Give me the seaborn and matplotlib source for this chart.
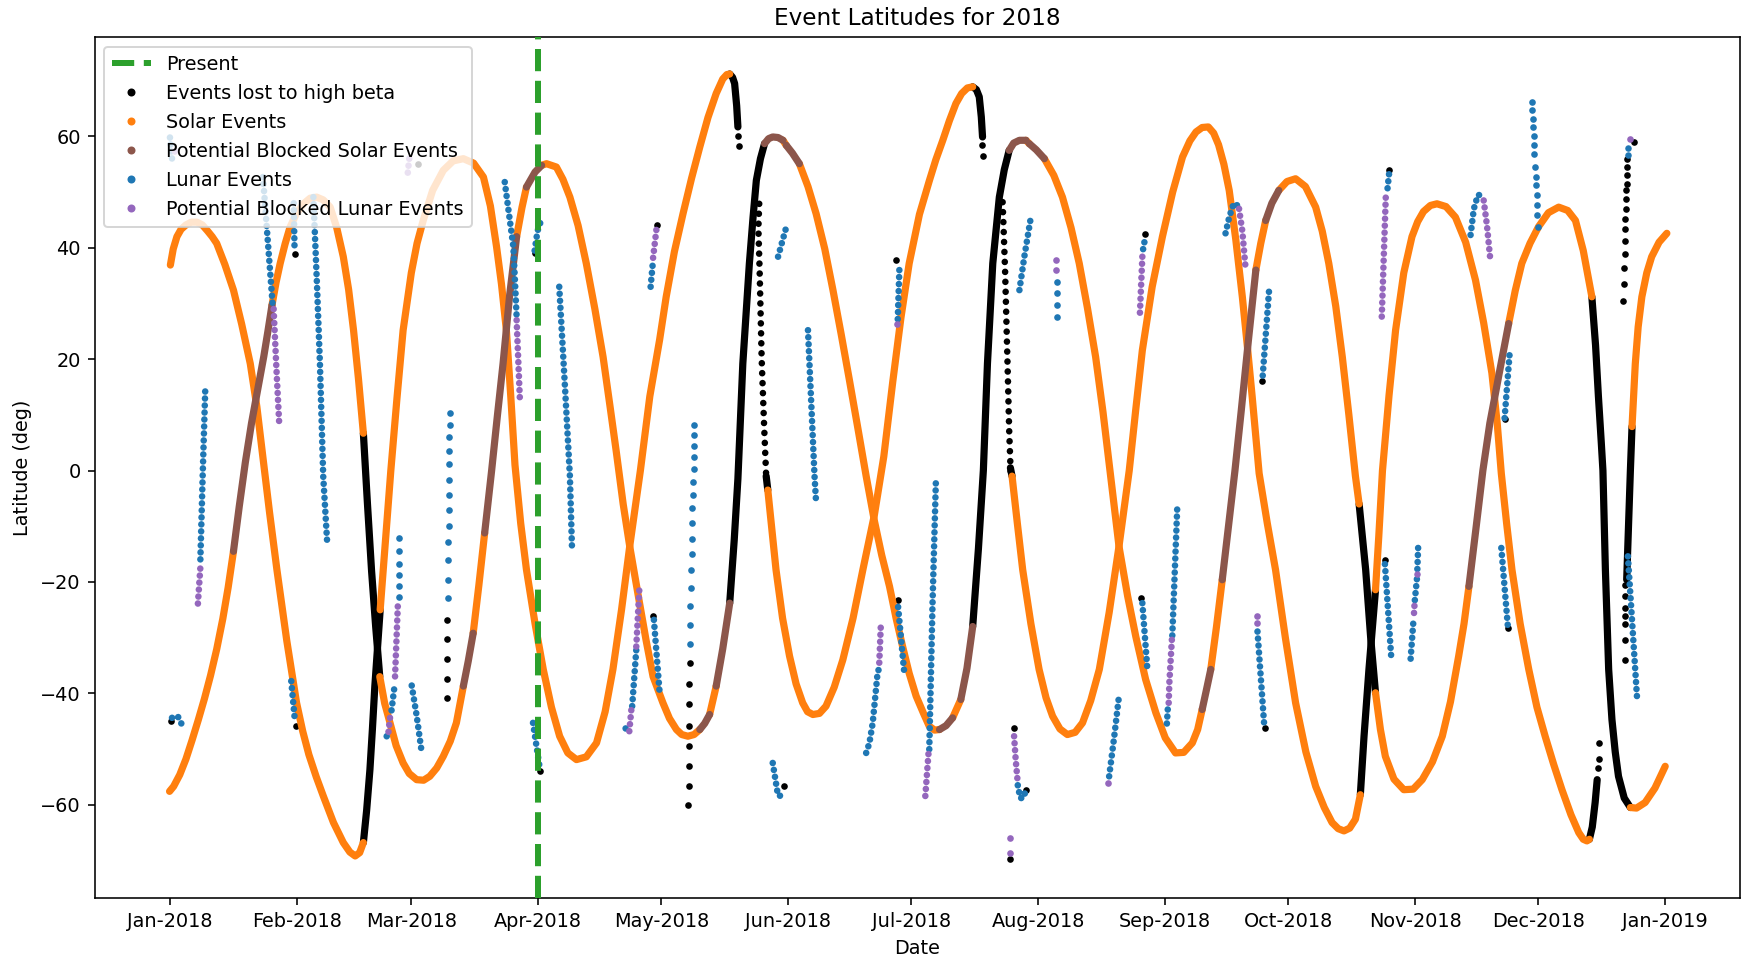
import matplotlib
matplotlib.use("Agg")
import matplotlib.pyplot as plt
import matplotlib.dates as mdates
from matplotlib.lines import Line2D
from datetime import datetime
import numpy as np
import pandas as pd
import seaborn as sns

# ---------------------------------------------------------------------------
# Data: day offsets counted from 2018-01-01, latitudes in degrees
# ---------------------------------------------------------------------------
PRESENT_DAY = 90.0

# Solar event tracks: (day, latitude, state of the stretch starting here)
# o = solar event, b = potentially blocked, k = lost to high beta, - = none
solar_track_1 = [
    (0.0, -57.6, 'o'), (1.0, -56.7, 'o'), (2.5, -54.6, 'o'), (4.0, -51.8, 'o'),
    (5.5, -48.4, 'o'), (7.0, -44.8, 'o'), (8.5, -41.0, 'o'), (10.0, -36.8, 'o'),
    (11.5, -32.1, 'o'), (13.0, -26.6, 'o'), (14.3, -21.0, 'o'), (15.6, -14.5, 'b'),
    (17.0, -6.5, 'b'), (18.5, 1.5, 'b'), (20.0, 8.5, 'b'), (21.5, 14.5, 'b'),
    (23.0, 20.5, 'b'), (24.0, 25.0, 'b'), (25.0, 29.7, 'o'), (26.0, 33.8, 'o'),
    (27.0, 37.2, 'o'), (28.2, 40.7, 'o'), (29.4, 43.7, 'o'), (31.0, 46.2, 'o'),
    (32.7, 47.9, 'o'), (34.3, 48.9, 'o'), (35.9, 49.1, 'o'), (37.5, 48.6, 'o'),
    (39.2, 47.3, 'o'), (40.8, 43.6, 'o'), (42.4, 38.4, 'o'), (43.7, 32.5, 'o'),
    (44.9, 25.2, 'o'), (46.1, 16.5, 'o'), (47.3, 6.7, 'k'), (48.3, -6.0, 'k'),
    (49.3, -18.0, 'k'), (50.3, -28.0, 'k'), (51.3, -37.0, 'o'), (52.5, -41.8, 'o'),
    (53.8, -45.3, 'o'), (55.3, -49.4, 'o'), (57.0, -52.5, 'o'), (58.5, -54.4, 'o'),
    (60.3, -55.5, 'o'), (62.0, -55.6, 'o'), (63.5, -54.9, 'o'), (65.2, -53.4, 'o'),
    (66.8, -51.3, 'o'), (68.5, -48.6, 'o'), (70.0, -45.3, 'o'), (71.7, -38.7, 'b'),
    (72.9, -34.2, 'b'), (74.1, -29.2, 'o'), (75.5, -20.5, 'o'), (76.9, -11.2, 'b'),
    (78.6, 0.0, 'b'), (80.0, 9.8, 'b'), (81.4, 19.3, 'b'), (83.0, 31.5, 'b'),
    (84.7, 42.0, 'o'), (86.0, 47.2, 'o'), (87.1, 50.9, 'b'), (89.2, 53.6, 'b'),
    (90.8, 54.8, 'o'), (92.0, 55.1, 'o'), (94.4, 54.5, 'o'), (96.0, 52.3, 'o'),
    (97.7, 49.1, 'o'), (99.7, 44.0, 'o'), (101.7, 37.2, 'o'), (103.8, 29.0, 'o'),
    (105.8, 20.4, 'o'), (107.5, 11.5, 'o'), (109.0, 3.5, 'o'), (110.7, -6.0, 'o'),
    (112.3, -13.6, 'o'), (114.7, -23.8, 'o'), (116.3, -30.5, 'o'), (118.0, -37.0, 'o'),
    (120.4, -41.7, 'o'), (122.0, -44.5, 'o'), (123.7, -46.5, 'o'), (125.0, -47.4, 'o'),
    (126.5, -47.7, 'o'), (128.0, -47.4, 'o'), (129.4, -46.5, 'b'), (130.6, -45.4, 'b'),
    (131.8, -43.8, 'o'), (133.4, -38.7, 'b'), (135.0, -32.0, 'b'), (136.7, -23.8, 'k'),
    (137.8, -12.5, 'k'), (138.7, -1.5, 'k'), (139.9, 19.2, 'k'), (141.5, 37.2, 'k'),
    (142.4, 45.5, 'k'), (143.2, 52.1, 'k'), (144.2, 56.0, 'k'), (145.2, 58.7, 'b'),
    (146.2, 59.6, 'b'), (147.2, 59.9, 'b'), (148.5, 59.8, 'b'), (149.7, 59.3, 'o'),
    (150.5, 58.4, 'b'), (152.0, 57.0, 'b'), (153.7, 55.1, 'o'), (155.8, 51.0, 'o'),
    (157.8, 46.1, 'o'), (159.9, 39.8, 'o'), (161.9, 32.4, 'o'), (163.9, 24.5, 'o'),
    (165.9, 16.3, 'o'), (168.0, 7.5, 'o'), (170.0, -1.0, 'o'), (172.0, -9.0, 'o'),
    (173.8, -15.2, 'o'), (175.7, -20.8, 'o'), (177.3, -26.5, 'o'), (178.9, -31.6, 'o'),
    (180.5, -36.4, 'o'), (182.2, -40.5, 'o'), (184.0, -43.6, 'o'), (185.4, -45.9, 'o'),
    (186.7, -46.6, 'o'), (187.9, -46.5, 'b'), (189.5, -45.8, 'b'), (191.1, -44.4, 'o'),
    (193.1, -41.1, 'b'), (194.6, -35.5, 'b'), (196.0, -28.0, 'k'), (197.4, -14.0, 'k'),
    (198.6, 0.0, 'k'), (199.6, 19.2, 'k'), (200.9, 37.2, 'k'), (202.5, 49.1, 'k'),
    (203.7, 54.0, 'k'), (204.9, 57.5, 'b'), (206.0, 58.8, 'b'), (207.4, 59.3, 'b'),
    (209.0, 59.3, 'o'), (209.8, 58.7, 'b'), (211.5, 57.6, 'b'), (213.5, 56.0, 'o'),
    (215.8, 53.0, 'o'), (217.9, 49.1, 'o'), (220.0, 43.6, 'o'), (222.0, 37.2, 'o'),
    (224.0, 29.2, 'o'), (226.0, 20.4, 'o'), (227.8, 10.5, 'o'), (229.5, 0.0, 'o'),
    (231.7, -13.6, 'o'), (233.8, -22.5, 'o'), (235.8, -29.8, 'o'), (238.2, -37.5, 'o'),
    (240.7, -43.5, 'o'), (243.0, -48.0, 'o'), (245.5, -50.7, 'o'), (247.5, -50.6, 'o'),
    (249.6, -48.9, 'o'), (250.9, -46.5, 'o'), (252.0, -42.9, 'b'), (253.0, -39.5, 'b'),
    (254.1, -35.7, 'o'), (255.5, -28.0, 'o'), (256.9, -19.6, 'b'), (258.5, -9.5, 'b'),
    (260.0, 0.0, 'b'), (261.5, 10.5, 'b'), (263.3, 23.5, 'b'), (265.1, 36.0, 'o'),
    (266.3, 40.8, 'o'), (267.5, 44.9, 'b'), (269.0, 48.0, 'b'), (270.7, 50.3, 'o'),
    (272.7, 51.9, 'o'), (274.8, 52.4, 'o'), (277.2, 51.0, 'o'), (279.7, 47.3, 'o'),
    (281.3, 43.0, 'o'), (282.9, 37.2, 'o'), (284.6, 29.5, 'o'), (286.2, 20.4, 'o'),
    (287.8, 10.0, 'o'), (289.4, -1.0, 'o'), (290.3, -6.0, 'k'), (291.9, -17.8, 'k'),
    (293.1, -29.8, 'k'), (294.3, -39.9, 'o'), (295.5, -46.5, 'o'), (296.7, -51.3, 'o'),
    (298.8, -55.4, 'o'), (301.2, -57.3, 'o'), (303.5, -57.2, 'o'), (305.7, -55.5, 'o'),
    (308.2, -52.3, 'o'), (310.6, -47.7, 'o'), (312.6, -41.5, 'o'), (314.6, -33.3, 'o'),
    (315.9, -27.5, 'o'), (317.1, -20.8, 'b'), (318.8, -10.5, 'b'), (320.5, 0.0, 'b'),
    (322.2, 8.5, 'b'), (324.5, 17.5, 'b'), (326.8, 26.4, 'o'), (328.4, 32.3, 'o'),
    (330.0, 37.2, 'o'), (332.0, 40.8, 'o'), (334.1, 43.8, 'o'), (336.5, 46.3, 'o'),
    (339.0, 47.3, 'o'), (341.2, 46.7, 'o'), (343.1, 44.9, 'o'), (345.0, 39.5, 'o'),
    (347.1, 31.2, 'k'), (348.0, 22.5, 'k'), (348.7, 13.3, 'k'), (349.4, 5.0, 'k'),
    (349.8, 0.0, 'k'), (350.4, -17.8, 'k'), (351.2, -35.7, 'k'), (352.0, -44.7, 'k'),
    (352.8, -50.5, 'k'), (353.6, -54.9, 'k'), (355.0, -58.8, 'k'), (356.5, -60.5, 'o'),
    (358.0, -60.6, 'o'), (360.1, -59.6, 'o'), (362.5, -57.0, 'o'), (365.0, -53.1, 'o'),
]

solar_track_2 = [
    (0.2, 36.9, 'o'), (0.9, 39.8, 'o'), (1.8, 42.0, 'o'), (2.8, 43.3, 'o'),
    (4.0, 44.1, 'o'), (5.3, 44.6, 'o'), (6.7, 44.6, 'o'), (8.0, 44.1, 'o'),
    (9.3, 43.0, 'o'), (10.4, 42.0, 'o'), (11.5, 40.8, 'o'), (13.5, 37.0, 'o'),
    (15.6, 32.4, 'o'), (17.6, 26.3, 'o'), (19.7, 19.2, 'o'), (21.3, 11.5, 'o'),
    (22.6, 3.5, 'o'), (24.4, -7.5, 'o'), (26.2, -17.8, 'o'), (28.6, -30.5, 'o'),
    (31.0, -41.7, 'o'), (32.5, -46.8, 'o'), (34.0, -51.0, 'o'), (35.8, -55.0, 'o'),
    (37.5, -58.4, 'o'), (40.0, -63.2, 'o'), (42.4, -66.8, 'o'), (44.0, -68.5, 'o'),
    (45.3, -69.2, 'o'), (46.4, -68.6, 'o'), (47.3, -66.8, 'k'), (48.1, -61.0, 'k'),
    (48.9, -53.7, 'k'), (49.5, -46.5, 'k'), (50.1, -38.7, 'k'), (51.4, -25.0, 'o'),
    (52.7, -12.5, 'o'), (54.0, 0.0, 'o'), (55.5, 13.0, 'o'), (57.0, 25.2, 'o'),
    (59.0, 35.5, 'o'), (60.4, 40.8, 'o'), (61.9, 44.9, 'o'), (64.2, 50.3, 'o'),
    (66.8, 53.9, 'o'), (69.2, 55.6, 'o'), (71.7, 56.0, 'o'), (74.2, 55.2, 'o'),
    (76.6, 52.7, 'o'), (78.3, 47.5, 'o'), (79.8, 40.2, 'o'), (81.0, 33.5, 'o'),
    (82.2, 25.2, 'o'), (83.3, 13.0, 'o'), (84.3, 1.0, 'o'), (85.7, -9.5, 'o'),
    (87.1, -17.8, 'o'), (89.2, -27.5, 'o'), (91.2, -35.7, 'o'), (93.2, -42.5, 'o'),
    (95.2, -47.7, 'o'), (97.2, -50.7, 'o'), (99.3, -51.9, 'o'), (101.7, -51.4, 'o'),
    (104.2, -48.9, 'o'), (106.3, -43.3, 'o'), (108.2, -35.7, 'o'), (110.3, -25.0, 'o'),
    (112.3, -13.6, 'o'), (114.9, 0.0, 'o'), (117.2, 13.3, 'o'), (119.6, 23.5, 'o'),
    (121.2, 31.2, 'o'), (123.2, 39.3, 'o'), (125.3, 46.1, 'o'), (127.4, 52.5, 'o'),
    (129.4, 58.1, 'o'), (131.4, 63.4, 'o'), (133.4, 67.7, 'o'), (135.0, 70.3, 'o'),
    (136.0, 71.1, 'o'), (136.7, 71.2, 'k'), (137.4, 70.6, 'k'), (137.9, 69.5, 'k'),
    (138.4, 65.5, 'k'), (138.7, 61.7, '-'), (145.6, -1.0, 'k'), (146.0, -3.5, 'o'),
    (148.0, -17.8, 'o'), (149.6, -26.5, 'o'), (151.3, -33.3, 'o'), (152.9, -38.3, 'o'),
    (154.5, -41.7, 'o'), (155.7, -43.3, 'o'), (157.0, -43.8, 'o'), (158.6, -43.6, 'o'),
    (160.2, -42.3, 'o'), (162.2, -38.9, 'o'), (164.3, -34.0, 'o'), (166.8, -26.5, 'o'),
    (169.2, -17.8, 'o'), (172.0, -8.0, 'o'), (174.3, 2.5, 'o'), (176.5, 16.0, 'o'),
    (178.5, 27.5, 'o'), (180.5, 37.2, 'o'), (183.0, 46.0, 'o'), (185.4, 52.0, 'o'),
    (187.0, 55.8, 'o'), (188.7, 59.3, 'o'), (190.3, 62.8, 'o'), (191.9, 65.9, 'o'),
    (193.3, 67.7, 'o'), (194.7, 68.7, 'o'), (196.0, 68.9, 'k'), (196.9, 68.4, 'k'),
    (197.6, 67.1, 'k'), (198.1, 63.5, 'k'), (198.4, 59.9, '-'), (205.2, 0.5, 'k'),
    (205.6, -1.0, 'o'), (206.9, -9.5, 'o'), (208.2, -17.8, 'o'), (210.2, -27.5, 'o'),
    (212.2, -35.7, 'o'), (213.9, -40.8, 'o'), (215.5, -44.1, 'o'), (217.3, -46.4, 'o'),
    (219.1, -47.4, 'o'), (221.0, -47.0, 'o'), (222.8, -45.3, 'o'), (224.8, -41.3, 'o'),
    (226.9, -35.7, 'o'), (229.3, -25.5, 'o'), (231.7, -13.6, 'o'), (234.2, 0.0, 'o'),
    (235.8, 11.0, 'o'), (237.4, 21.6, 'o'), (239.8, 33.0, 'o'), (242.3, 42.0, 'o'),
    (244.8, 50.0, 'o'), (247.2, 56.3, 'o'), (249.0, 59.2, 'o'), (250.5, 60.8, 'o'),
    (252.0, 61.6, 'o'), (253.5, 61.7, 'o'), (254.8, 60.6, 'o'), (256.0, 58.5, 'o'),
    (257.3, 55.0, 'o'), (258.6, 50.3, 'o'), (260.2, 41.5, 'o'), (261.8, 31.2, 'o'),
    (263.0, 22.5, 'o'), (264.2, 13.3, 'o'), (265.9, -0.5, 'o'), (267.9, -9.5, 'o'),
    (269.9, -17.8, 'o'), (272.3, -30.0, 'o'), (274.8, -41.7, 'o'), (277.3, -50.5, 'o'),
    (279.7, -56.7, 'o'), (281.8, -60.5, 'o'), (283.7, -63.2, 'o'), (285.2, -64.3, 'o'),
    (286.6, -64.7, 'o'), (288.0, -64.2, 'o'), (289.4, -62.6, 'o'), (290.6, -58.2, 'k'),
    (291.5, -47.7, 'k'), (292.7, -35.7, 'k'), (294.3, -21.4, 'o'), (295.1, -11.8, 'o'),
    (296.0, 0.0, 'o'), (297.6, 13.5, 'o'), (299.2, 25.2, 'o'), (301.2, 35.5, 'o'),
    (303.2, 42.0, 'o'), (304.6, 44.7, 'o'), (306.0, 46.5, 'o'), (307.7, 47.6, 'o'),
    (309.3, 47.9, 'o'), (311.5, 47.4, 'o'), (313.8, 45.5, 'o'), (316.3, 41.0, 'o'),
    (318.7, 34.2, 'o'), (320.7, 26.5, 'o'), (322.7, 17.5, 'o'), (324.0, 8.5, 'o'),
    (325.0, -0.5, 'o'), (326.3, -9.5, 'o'), (327.6, -17.8, 'o'), (329.6, -27.5, 'o'),
    (331.7, -35.7, 'o'), (333.7, -42.5, 'o'), (335.7, -47.7, 'o'), (337.8, -52.8, 'o'),
    (339.8, -57.3, 'o'), (342.0, -61.8, 'o'), (343.9, -65.0, 'o'), (345.0, -66.2, 'o'),
    (345.9, -66.5, 'o'), (346.5, -66.2, 'k'), (347.2, -64.0, 'k'), (347.9, -59.6, 'k'),
    (348.4, -55.5, '-'), (355.6, -19.6, 'k'), (356.5, 0.0, 'k'), (356.9, 7.9, 'o'),
    (357.7, 19.2, 'o'), (358.4, 25.8, 'o'), (359.3, 31.2, 'o'), (360.5, 35.5, 'o'),
    (361.7, 38.4, 'o'), (363.5, 41.0, 'o'), (365.4, 42.6, 'o'),
]

# Runs of high-beta losses with sparse event spacing
beta_lost_runs = [
    [(143.9, 47.9), (143.7, 43.5), (144.0, 36.0), (144.5, 20.0), (145.1, 8.0), (145.6, -1.0)],
    [(203.3, 48.2), (203.5, 44.3), (203.9, 36.0), (204.5, 19.2), (204.9, 7.3), (205.3, -1.0)],
]

# Single high-beta losses
beta_lost_days = [
    0.3, 30.5, 30.8, 60.7, 67.8, 67.8, 67.8, 67.8, 67.7, 89.3, 90.4, 118.0, 118.9,
    126.9, 126.8, 126.8, 126.8, 126.8, 126.8, 126.7, 126.5, 138.8, 138.9, 149.9,
    177.3, 177.7, 198.3, 198.4, 206.1, 209.1, 205.1, 237.0, 238.1, 266.5, 267.3,
    296.6, 297.6, 325.8, 326.6, 357.3,
    355.7, 355.7, 355.6, 355.6, 355.5, 355.5, 355.4, 355.3, 355.3, 355.2, 355.1,
    355.0, 354.9, 354.8,
    348.6, 348.8, 348.9,
    355.2, 355.2, 355.2, 355.2, 355.2, 355.2, 355.2,
]
beta_lost_lats = [
    -45.0, 38.8, -45.9, 55.1, -26.8, -30.2, -33.8, -37.4, -40.9, 39.1, -54.0, -26.2, 44.1,
    -34.5, -38.4, -42.0, -45.8, -49.5, -53.1, -56.7, -60.0, 60.0, 58.3, -56.7,
    37.8, -23.2, 58.4, 56.5, -46.2, -57.3, -69.7, -22.9, 42.5, 16.0, -46.2,
    -16.1, 54.0, 9.2, -28.3, 59.0,
    56.0, 54.5, 53.0, 51.5, 50.3, 48.8, 47.0, 45.2, 43.4, 41.2, 38.8,
    36.3, 33.5, 30.5,
    -53.4, -51.8, -49.0,
    -20.5, -22.5, -24.6, -26.2, -27.5, -30.4, -34.1,
]

# Lunar event runs
lunar_runs = [
    [(0.1, 59.8), (0.6, 56.0)],
    [(0.6, -44.4), (2.0, -44.1), (3.0, -45.6)],
    [(8.7, 14.2), (8.1, -0.5), (7.5, -16.6)],
    [(22.8, 52.7), (24.0, 41.0), (25.2, 29.4)],
    [(30.3, 48.0), (30.5, 40.0)],
    [(35.1, 49.1), (36.0, 33.0), (36.7, 19.2), (37.5, -1.0), (38.5, -13.3)],
    [(29.7, -37.8), (30.6, -45.0)],
    [(54.8, -39.3), (54.0, -44.1)],
    [(53.0, -47.7), (52.3, -48.6)],
    [(59.1, -38.6), (60.3, -44.0), (61.5, -50.4)],
    [(81.8, 51.8), (83.9, 40.2), (84.7, 27.6)],
    [(89.1, 39.5), (89.8, 43.0), (90.8, 45.2)],
    [(95.1, 33.0), (96.5, 15.0), (97.7, -1.0), (98.2, -13.6)],
    [(88.7, -45.3), (90.4, -53.7)],
    [(111.3, -46.3), (111.8, -46.8)],
    [(112.9, -42.3), (113.9, -32.2)],
    [(118.2, -26.8), (119.6, -39.9)],
    [(117.4, 33.0), (118.0, 37.8)],
    [(148.5, 38.4), (150.5, 43.7)],
    [(155.8, 25.2), (157.4, -1.0), (157.8, -5.9)],
    [(178.1, 36.0), (177.7, 27.0)],
    [(147.2, -52.5), (148.3, -57.5), (148.9, -58.5), (149.5, -57.5)],
    [(170.0, -50.7), (170.8, -48.9), (171.6, -45.3), (172.7, -37.0), (173.2, -35.1)],
    [(177.8, -24.5), (179.3, -36.3)],
    [(187.0, -2.3), (186.2, -23.8), (185.4, -50.1)],
    [(207.4, 32.4), (208.6, 38.4), (210.2, 45.5)],
    [(237.9, 41.0), (237.4, 39.0)],
    [(207.0, -56.5), (207.6, -58.8), (208.4, -58.8), (208.9, -57.5)],
    [(229.3, -54.9), (230.5, -48.0), (231.7, -40.5)],
    [(237.4, -23.8), (238.6, -35.4)],
    [(245.9, -7.0), (244.7, -29.8)],
    [(243.6, -42.9), (243.3, -46.5)],
    [(257.7, 42.6), (258.6, 45.5), (259.7, 48.0), (260.6, 47.6)],
    [(268.3, 32.1), (266.7, 16.3)],
    [(297.6, 53.2), (297.1, 49.7)],
    [(317.5, 42.3), (318.3, 47.0), (319.3, 49.5), (320.2, 49.4)],
    [(265.5, -28.9), (267.1, -45.3)],
    [(296.6, -16.8), (298.2, -34.2)],
    [(304.7, -13.9), (304.5, -18.0)],
    [(304.4, -19.5), (303.8, -24.0)],
    [(303.5, -27.5), (302.8, -34.5)],
    [(327.0, 20.7), (325.8, 9.4)],
    [(325.0, -13.9), (326.6, -28.0)],
    [(355.9, 58.0), (355.9, 56.5)],
    [(355.9, -15.4), (357.0, -28.0), (358.1, -40.5)],
]

# Single lunar events
lunar_days = [
    68.4, 68.4, 68.3, 68.3, 68.3, 68.2, 68.2, 68.1, 68.1, 68.0, 68.0, 67.9, 67.9,
    56.1, 56.1, 56.1, 56.0, 56.0, 55.9,
    128.1, 128.1, 128.0, 128.0, 127.9, 127.7, 127.7, 127.6, 127.5, 127.5, 127.4,
    127.3, 127.2, 127.1, 127.0, 126.9,
    216.5, 216.5, 216.5, 216.5,
    332.5, 332.6, 332.7, 332.8, 332.9, 333.0, 333.1, 333.3, 333.4, 333.5, 333.6,
    333.7, 333.8, 333.9,
]
lunar_lats = [
    10.3, 8.2, 6.0, 3.6, 1.2, -1.7, -4.4, -7.0, -10.0, -12.9, -16.0, -19.6, -22.9,
    -12.1, -14.5, -16.8, -18.7, -20.7, -22.7,
    8.2, 6.4, 4.4, 2.5, 0.2, -2.1, -4.4, -6.7, -9.4, -12.3, -15.0,
    -17.8, -21.1, -24.4, -27.7, -31.1,
    33.9, 31.8, 29.7, 27.6,
    66.2, 64.7, 63.2, 61.7, 60.0, 58.4, 56.8, 54.5, 52.7, 51.2, 49.4,
    47.6, 45.8, 43.7,
]

# Potentially blocked lunar event runs
blocked_lunar_runs = [
    [(1.3, 57.3), (1.6, 56.6)],
    [(7.5, -17.6), (6.9, -24.1)],
    [(25.4, 29.0), (26.1, 18.0), (26.8, 7.9)],
    [(55.7, -24.4), (55.0, -37.5)],
    [(53.8, -44.4), (53.4, -47.1)],
    [(58.5, 56.0), (58.0, 52.5)],
    [(84.7, 27.0), (85.5, 12.7)],
    [(112.2, -46.8), (112.7, -42.9)],
    [(113.9, -31.6), (114.7, -20.5)],
    [(118.0, 38.2), (118.8, 43.2)],
    [(173.2, -34.5), (173.6, -27.4)],
    [(185.2, -50.9), (184.4, -58.8)],
    [(237.4, 38.4), (236.8, 28.2)],
    [(206.1, -47.7), (206.5, -52.0), (207.0, -56.1)],
    [(244.6, -30.4), (244.0, -38.0), (243.8, -42.3)],
    [(261.0, 47.0), (261.8, 43.0), (262.6, 36.3)],
    [(296.8, 49.0), (295.8, 27.0)],
    [(320.7, 48.5), (321.5, 44.0), (322.3, 38.0)],
    [(304.5, -18.6), (304.5, -19.1)],
    [(303.8, -24.3), (303.6, -26.8)],
]

# Single potentially blocked lunar events
blocked_lunar_days = [177.5, 216.3, 216.3, 205.1, 205.1, 228.9, 265.5, 265.5, 356.5]
blocked_lunar_lats = [26.4, 37.8, 36.0, -65.9, -68.6, -56.1, -26.2, -27.4, 59.6]

# ---------------------------------------------------------------------------
# Styling
# ---------------------------------------------------------------------------
C_BETA = "black"
C_SOLAR = "#ff7f0e"
C_BLOCKED_SOLAR = "#8c564b"
C_LUNAR = "#1f77b4"
C_BLOCKED_LUNAR = "#9467bd"
C_PRESENT = "#2ca02c"

TRACK_LW = 3.6      # dense event tracks (pt)
DOT_LW = 3.3        # dotted event runs (pt)
DOT_SIZE = 11       # single events (pt^2)

plt.rcParams["font.size"] = 9.65

START = mdates.date2num(datetime(2018, 1, 1))

DPI = 144
fig = plt.figure(figsize=(1742 / DPI, 958 / DPI), dpi=DPI)
ax = fig.add_axes([0.0544, 0.0629, 0.99885 - 0.0544, 0.9611 - 0.0629])


def runs_by_state(track):
    """Split a (day, lat, state) track into consecutive same-state runs."""
    out = {}
    start = 0
    n = len(track)
    for i in range(1, n):
        if i == n - 1 or track[i][2] != track[start][2]:
            state = track[start][2]
            if state != '-':
                out.setdefault(state, []).append([(d, l) for d, l, _ in track[start:i + 1]])
            start = i
    return out


def draw_runs(runs, color, z, gap=None, lw=TRACK_LW):
    rows = []
    for k, run in enumerate(runs):
        for d, lat in run:
            rows.append((k, START + d, lat))
    df = pd.DataFrame(rows, columns=["run", "date", "lat"])
    if gap is None:
        style = dict(solid_capstyle="round", solid_joinstyle="round")
    else:
        style = dict(linestyle=(0, (0.01, gap)), dash_capstyle="round")
    sns.lineplot(data=df, x="date", y="lat", units="run", estimator=None,
                 sort=False, color=color, linewidth=lw, legend=False,
                 ax=ax, zorder=z, **style)


def draw_points(days, lats, color, z):
    sns.scatterplot(x=START + np.asarray(days), y=np.asarray(lats), color=color,
                    s=DOT_SIZE, linewidth=0, legend=False, ax=ax, zorder=z)


state_color = {'o': (C_SOLAR, 2.2), 'b': (C_BLOCKED_SOLAR, 2.3), 'k': (C_BETA, 2.1)}
collected = {}
for track in (solar_track_1, solar_track_2):
    for state, runs in runs_by_state(track).items():
        collected.setdefault(state, []).extend(runs)
for state in ('k', 'o', 'b'):
    color, z = state_color[state]
    draw_runs(collected[state], color, z)

draw_runs(beta_lost_runs, C_BETA, 2.1, gap=1.5, lw=DOT_LW)
draw_points(beta_lost_days, beta_lost_lats, C_BETA, 2.15)
draw_runs(lunar_runs, C_LUNAR, 2.4, gap=1.05, lw=DOT_LW)
draw_points(lunar_days, lunar_lats, C_LUNAR, 2.4)
draw_runs(blocked_lunar_runs, C_BLOCKED_LUNAR, 2.5, gap=1.05, lw=DOT_LW)
draw_points(blocked_lunar_days, blocked_lunar_lats, C_BLOCKED_LUNAR, 2.5)

ax.axvline(START + PRESENT_DAY, color=C_PRESENT, linestyle="--", linewidth=3, zorder=2.6)

# Axes, ticks and labels
ax.set_xlim(START - 18.25, START + 365 + 18.25)
ax.set_ylim(-76.7, 77.8)
ax.xaxis.set_major_locator(mdates.MonthLocator())
ax.xaxis.set_major_formatter(mdates.DateFormatter("%b-%Y"))
ax.set_yticks([-60, -40, -20, 0, 20, 40, 60])
ax.set_xlabel("Date")
ax.set_ylabel("Latitude (deg)")
ax.set_title("Event Latitudes for 2018")

handles = [
    Line2D([0], [0], color=C_PRESENT, linestyle="--", linewidth=3),
    Line2D([0], [0], marker=".", linestyle="none", color=C_BETA),
    Line2D([0], [0], marker=".", linestyle="none", color=C_SOLAR),
    Line2D([0], [0], marker=".", linestyle="none", color=C_BLOCKED_SOLAR),
    Line2D([0], [0], marker=".", linestyle="none", color=C_LUNAR),
    Line2D([0], [0], marker=".", linestyle="none", color=C_BLOCKED_LUNAR),
]
labels = ["Present", "Events lost to high beta", "Solar Events",
          "Potential Blocked Solar Events", "Lunar Events",
          "Potential Blocked Lunar Events"]
ax.legend(handles, labels, loc="upper left", labelspacing=0.52)

fig.savefig("out.png", dpi=DPI)
